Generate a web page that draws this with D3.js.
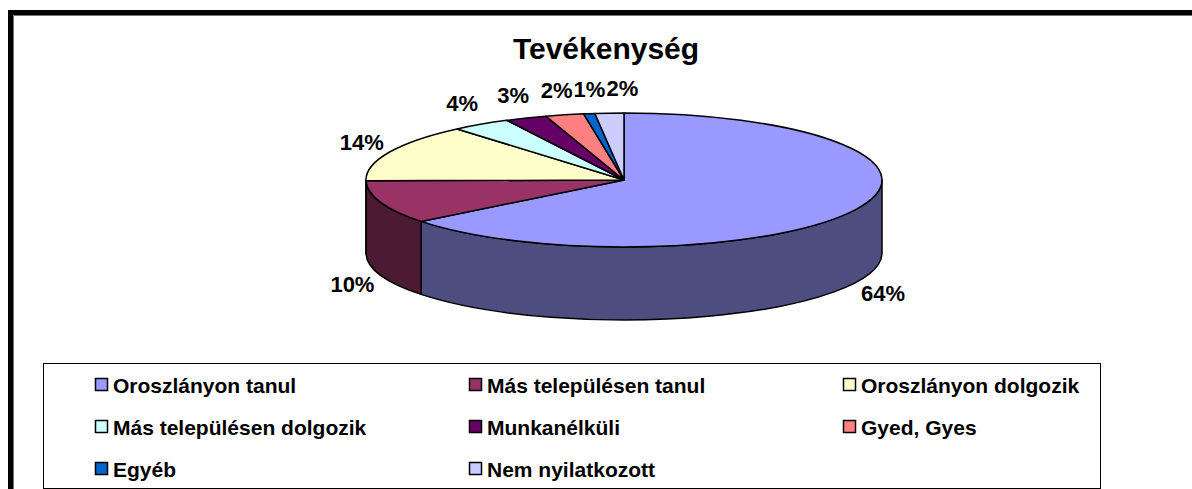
<!DOCTYPE html>
<html>
<head>
<meta charset="utf-8">
<script src="https://cdn.jsdelivr.net/npm/d3@7"></script>
<style>
  html, body { margin: 0; padding: 0; background: #fff; }
  svg { display: block; }
  text { font-family: "Liberation Sans", Arial, sans-serif; font-weight: bold; fill: #000; }
</style>
</head>
<body>
<svg id="chart" width="1192" height="489"></svg>
<script>
// ---- data ----
const title = "Tevékenység";
const categories = [
  "Oroszlányon tanul",
  "Más településen tanul",
  "Oroszlányon dolgozik",
  "Más településen dolgozik",
  "Munkanélküli",
  "Gyed, Gyes",
  "Egyéb",
  "Nem nyilatkozott"
];
const values = [64.4, 10.4, 14.0, 3.7, 2.6, 2.4, 0.7, 1.8];
const topColors = ["#9999FF", "#993366", "#FFFFCC", "#CCFFFF", "#660066", "#FF8080", "#0066CC", "#CCCCFF"];
const sideColors = ["#4D4D80", "#4D1A33", "#808066", "#668080", "#330033", "#804040", "#003366", "#666680"];

// ---- layout ----
const cx = 624, cy = 180, rx = 258, ry = 67, depth = 73;

const svg = d3.select("#chart");

// outer frame (cropped at right/bottom)
svg.append("rect").attr("x", 10.5).attr("y", 12.5).attr("width", 1300).attr("height", 600)
  .attr("fill", "none").attr("stroke", "#000").attr("stroke-width", 5);
svg.append("path").attr("d", "M13.5,600 L13.5,15.5 L1192,15.5")
  .attr("fill", "none").attr("stroke", "#777").attr("stroke-width", 1);

// title
svg.append("text").attr("x", 606).attr("y", 59).attr("text-anchor", "middle")
  .attr("font-size", 30).text(title);

// pie
const pie = d3.pie().sort(null).value(d => d)
  .startAngle(0).endAngle(2 * Math.PI);
const arcs = pie(values);

const pt = a => [cx + rx * Math.sin(a), cy - ry * Math.cos(a)];

// sides (front half: pi/2 .. 3pi/2)
const sideG = svg.append("g");
arcs.forEach((d, i) => {
  const s = Math.max(d.startAngle, Math.PI / 2);
  const e = Math.min(d.endAngle, 3 * Math.PI / 2);
  if (e <= s) return;
  const p0 = pt(s), p1 = pt(e);
  const large = (e - s) > Math.PI ? 1 : 0;
  const path = `M${p0[0]},${p0[1]} A${rx},${ry} 0 ${large} 1 ${p1[0]},${p1[1]}` +
    ` L${p1[0]},${p1[1] + depth} A${rx},${ry} 0 ${large} 0 ${p0[0]},${p0[1] + depth} Z`;
  sideG.append("path").attr("d", path)
    .attr("fill", sideColors[i]).attr("stroke", "#000").attr("stroke-width", 1.5)
    .attr("stroke-linejoin", "round");
});

// top faces
const topG = svg.append("g");
arcs.forEach((d, i) => {
  const p0 = pt(d.startAngle), p1 = pt(d.endAngle);
  const large = (d.endAngle - d.startAngle) > Math.PI ? 1 : 0;
  const path = `M${cx},${cy} L${p0[0]},${p0[1]} A${rx},${ry} 0 ${large} 1 ${p1[0]},${p1[1]} Z`;
  topG.append("path").attr("d", path)
    .attr("fill", topColors[i]).attr("stroke", "#000").attr("stroke-width", 1.5)
    .attr("stroke-linejoin", "round");
});

// labels
const fmt = d3.format(".0%");
const labG = svg.append("g");
const labs = arcs.map((d, i) => {
  const m = (d.startAngle + d.endAngle) / 2;
  const e = pt(m);
  let ex = e[0], ey = e[1];
  if (Math.cos(m) < 0) ey += depth;
  const sx = Math.cos(m) > 0.5 ? 34 : 30;
  const node = labG.append("text").attr("text-anchor", "middle").attr("font-size", 22)
    .text(fmt(d.data / 100));
  return { m, node, x: ex + sx * Math.sin(m), y: ey - 25 * Math.cos(m),
           w: node.node().getComputedTextLength() };
});
// overlap avoidance for the crowded top labels (push to the right)
const topLabs = labs.filter(l => Math.cos(l.m) > 0.5).sort((a, b) => a.x - b.x);
for (let k = 1; k < topLabs.length; k++) {
  const a = topLabs[k - 1], b = topLabs[k];
  const minD = (a.w + b.w) / 2 + 1;
  if (b.x - a.x < minD) b.x = a.x + minD;
}
labs.forEach(l => l.node.attr("x", l.x).attr("y", l.y + 8));

// legend
svg.append("rect").attr("x", 43.5).attr("y", 363.5).attr("width", 1057).attr("height", 125)
  .attr("fill", "none").attr("stroke", "#000").attr("stroke-width", 1);
const colX = [95, 469, 843];
const rowY = [385, 427, 469];
const legG = svg.append("g");
categories.forEach((c, i) => {
  const x = colX[i % 3], y = rowY[Math.floor(i / 3)];
  legG.append("rect").attr("x", x + 0.5).attr("y", y - 6.5).attr("width", 12).attr("height", 12)
    .attr("fill", topColors[i]).attr("stroke", "#000").attr("stroke-width", 1.5);
  legG.append("text").attr("x", x + 18).attr("y", y + 7.5)
    .attr("font-size", 21).text(c);
});
</script>
</body>
</html>
